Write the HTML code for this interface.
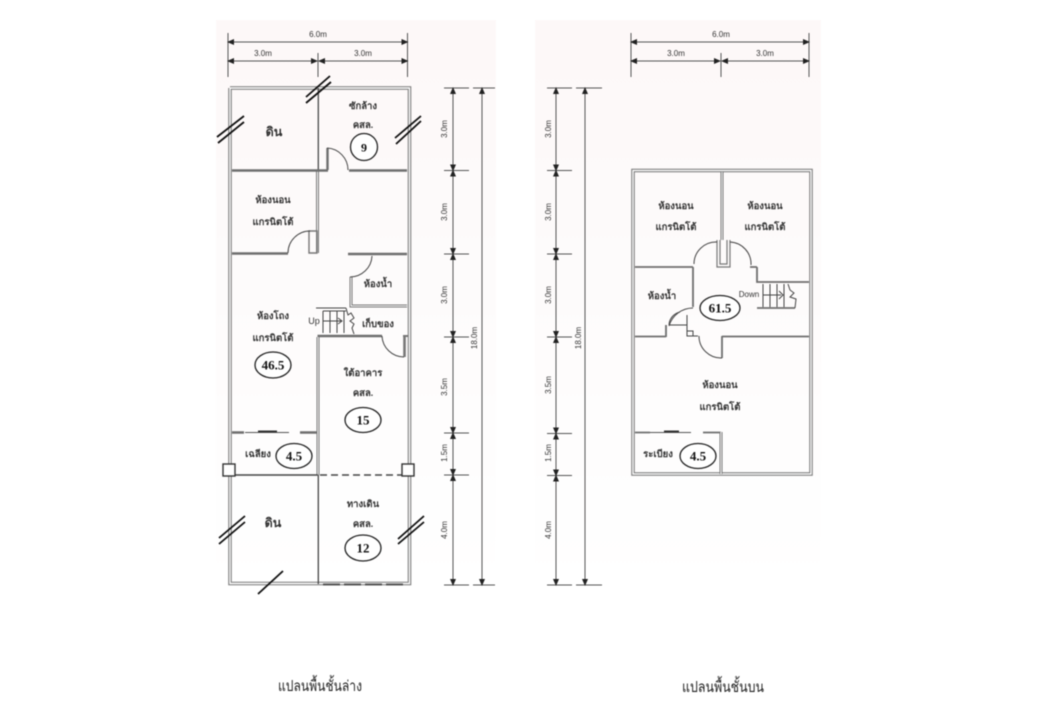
<!DOCTYPE html>
<html><head><meta charset="utf-8"><style>
html,body{margin:0;padding:0;background:#fff;width:1040px;height:720px;overflow:hidden}
svg{display:block;filter:blur(.45px)}
.dim{stroke:#555;stroke-width:1;fill:none}
.gap{fill:#333;font:8px "Liberation Sans",sans-serif;text-anchor:middle}
.t{fill:#333;font:bold 9.500px "Liberation Serif","DejaVu Sans",serif;text-anchor:middle}
.n{fill:#111;font:bold 13px "Liberation Serif",serif;text-anchor:middle}
.e{fill:#fff;stroke:#222;stroke-width:1.3}
.w{fill:none;stroke:#777;stroke-width:3.500}
.wi{fill:none;stroke:#fff;stroke-width:1.400}
.d{fill:none;stroke:#6e6e6e;stroke-width:2.400}
.b{stroke:#111;stroke-width:1.800;fill:none}
.a{fill:none;stroke:#444;stroke-width:1}
.ti{fill:#222;font:15px "Liberation Serif","DejaVu Sans",serif;text-anchor:middle}
</style></head><body>
<svg width="1040" height="720" viewBox="0 0 1040 720" xmlns="http://www.w3.org/2000/svg">
<defs>
<linearGradient id="g" x1="0" y1="0" x2="0" y2="1"><stop offset="0" stop-color="#fdf8f8"/><stop offset=".7" stop-color="#fefdfd"/><stop offset="1" stop-color="#fff"/></linearGradient>
<marker id="m" markerWidth="7" markerHeight="6" refX="6" refY="3" orient="auto-start-reverse" markerUnits="userSpaceOnUse"><path d="M0 0L7 3L0 6z" fill="#222"/></marker>
</defs>
<rect width="1040" height="720" fill="#fff"/>
<rect x="216" y="20" width="280" height="560" fill="url(#g)"/>
<rect x="535" y="20" width="286" height="560" fill="url(#g)"/>

<!-- GROUND top dims -->
<g class="dim">
<path d="M228 33V77M318 53V77M407.500 33V77"/>
<path d="M228 42H407.500" marker-start="url(#m)" marker-end="url(#m)"/>
<path d="M228 61H317" marker-start="url(#m)" marker-end="url(#m)"/>
<path d="M319 61H407.500" marker-start="url(#m)" marker-end="url(#m)"/>
</g>
<text class="gap" x="318" y="37">6.0m</text><text class="gap" x="263" y="56">3.0m</text><text class="gap" x="363" y="56">3.0m</text>

<!-- GROUND right dims -->
<g class="dim">
<path d="M444 88H469M444 170.500H469M444 254H469M444 337H469M444 433H469M444 475H469M444 585H469M473 88H495M473 585H495"/>
<path d="M453 88V170.500" marker-start="url(#m)" marker-end="url(#m)"/><path d="M453 170.500V254" marker-start="url(#m)" marker-end="url(#m)"/><path d="M453 254V337" marker-start="url(#m)" marker-end="url(#m)"/><path d="M453 337V433" marker-start="url(#m)" marker-end="url(#m)"/><path d="M453 433V475" marker-start="url(#m)" marker-end="url(#m)"/><path d="M453 475V585" marker-start="url(#m)" marker-end="url(#m)"/>
<path d="M482 88V585" marker-start="url(#m)" marker-end="url(#m)"/>
</g>
<g class="gap">
<text transform="translate(447,129) rotate(-90)">3.0m</text><text transform="translate(447,212) rotate(-90)">3.0m</text><text transform="translate(447,295) rotate(-90)">3.0m</text><text transform="translate(447,387) rotate(-90)">3.5m</text><text transform="translate(447,453) rotate(-90)">1.5m</text><text transform="translate(447,530) rotate(-90)">4.0m</text><text transform="translate(477,338) rotate(-90)">18.0m</text>
</g>

<!-- GROUND walls -->
<path class="w" d="M230 88H409.500V466M409.500 476V583.500H230V476M230 466V88"/>
<path class="wi" d="M230 88H409.500V466M409.500 476V583.500H230V476M230 466V88"/>
<path d="M318.300 88V170" stroke="#555" stroke-width="1.400" fill="none"/>
<path class="w" d="M317.500 171V253" style="stroke-width:3"/><path class="wi" d="M317.500 171V253" style="stroke-width:1"/>
<path class="d" d="M232 170.500H328M349 170.500H407M232 253.500H288M348 254H407M317.500 336H382M232 432.500H244M300 432.500H318M327.500 148V170"/>
<path d="M309 231H317V253H309Z" fill="none" stroke="#777" stroke-width="1.400"/>
<path class="w" d="M351 277V306H407" style="stroke-width:3"/><path class="wi" d="M351 277V306H407" style="stroke-width:1"/>
<path class="w" d="M318 337V475" style="stroke-width:3"/><path class="wi" d="M318 337V475" style="stroke-width:1"/>
<path d="M318.300 475V584" stroke="#444" stroke-width="1.300" fill="none"/>
<path d="M404.500 336V357" stroke="#777" stroke-width="2.600" fill="none"/>
<path d="M408 336H403" stroke="#777" stroke-width="2"/>
<path d="M245 432.500H289" stroke="#555" stroke-width="1"/><path d="M258 431.500H277" stroke="#333" stroke-width="2"/>
<path d="M228 475H318" stroke="#444" stroke-width="1.600"/>
<path d="M320 475H403" stroke="#444" stroke-width="1.400" stroke-dasharray="7 4"/>
<path d="M323 584.500H405" stroke="#555" stroke-width="2" stroke-dasharray="17 4"/>
<rect x="223" y="464" width="12" height="12" fill="#fff" stroke="#333" stroke-width="1.400"/>
<rect x="402" y="464" width="12" height="12" fill="#fff" stroke="#333" stroke-width="1.400"/>
<!-- doors -->
<g class="a">
<path d="M327 148A22 22 0 0 1 348 170"/>
<path d="M310 231A22 22 0 0 0 288 253"/>
<path d="M372 256A22 22 0 0 1 350 277"/>
<path d="M382 336A22 22 0 0 0 404 357"/>
</g>
<!-- GROUND stairs -->
<g stroke="#444" fill="none" stroke-width="1">
<path d="M316 308H346M323 311H346M323 311V333M330 311V333M337 311V333M344 311V333M323 321H342" />
<path d="M346 308L348 315L351 313L354 318L350 321L354 324L352 328L354 334"/>
<path d="M338 318L342 321L338 324"/>
</g>
<text class="gap" x="314" y="324" style="font-size:9px">Up</text>
<!-- break marks -->
<g class="b">
<path d="M306 97L330 76M306 103L331 82M217 137L244 116M218 143L244 122M395 138L421 116M396 144L421 121M219 538L245 516M219 544L245 522M398 539L424 516M398 544L424 522M258 594L283 571"/>
</g>
<!-- GROUND labels -->
<text class="t" x="274" y="136" style="font-size:12.500px">ดิน</text>
<text class="t" x="363" y="109">ซักล้าง</text><text class="t" x="363" y="128">คสล.</text>
<circle class="e" cx="364" cy="147" r="13.500"/><text class="n" x="364" y="151.500" style="font-size:12px">9</text>
<text class="t" x="273" y="203">ห้องนอน</text><text class="t" x="273" y="225">แกรนิตโต้</text>
<text class="t" x="273" y="319">ห้องโถง</text><text class="t" x="273" y="341">แกรนิตโต้</text>
<ellipse class="e" cx="273" cy="365" rx="18" ry="13"/><text class="n" x="273" y="369.500">46.5</text>
<text class="t" x="378" y="287">ห้องน้ำ</text><text class="t" x="378" y="327">เก็บของ</text>
<text class="t" x="363" y="376">ใต้อาคาร</text><text class="t" x="363" y="396">คสล.</text>
<ellipse class="e" cx="363" cy="420" rx="18" ry="12.500"/><text class="n" x="363" y="424.500">15</text>
<text class="t" x="258" y="457">เฉลียง</text>
<ellipse class="e" cx="294" cy="456" rx="18" ry="12.500"/><text class="n" x="294" y="460.500">4.5</text>
<text class="t" x="273" y="527" style="font-size:12.500px">ดิน</text>
<text class="t" x="363" y="507">ทางเดิน</text><text class="t" x="363" y="527">คสล.</text>
<ellipse class="e" cx="363" cy="548" rx="18" ry="13"/><text class="n" x="363" y="552.500">12</text>
<text class="ti" x="320" y="691" textLength="84" lengthAdjust="spacingAndGlyphs">แปลนพื้นชั้นล่าง</text>

<!-- UPPER top dims -->
<g class="dim">
<path d="M631 33V77M721 53V77M809 33V77"/>
<path d="M631 42H809" marker-start="url(#m)" marker-end="url(#m)"/>
<path d="M631 61H720" marker-start="url(#m)" marker-end="url(#m)"/>
<path d="M722 61H809" marker-start="url(#m)" marker-end="url(#m)"/>
</g>
<text class="gap" x="721" y="37">6.0m</text><text class="gap" x="676" y="56">3.0m</text><text class="gap" x="765" y="56">3.0m</text>

<!-- UPPER left dims -->
<g class="dim">
<path d="M547 88H572M547 170.500H572M547 254H572M547 337H572M547 433.500H572M547 475.500H572M547 585H572M576 88H602M576 585H602"/>
<path d="M556 88V170.500" marker-start="url(#m)" marker-end="url(#m)"/><path d="M556 170.500V254" marker-start="url(#m)" marker-end="url(#m)"/><path d="M556 254V337" marker-start="url(#m)" marker-end="url(#m)"/><path d="M556 337V433.500" marker-start="url(#m)" marker-end="url(#m)"/><path d="M556 433.500V475.500" marker-start="url(#m)" marker-end="url(#m)"/><path d="M556 475.500V585" marker-start="url(#m)" marker-end="url(#m)"/>
<path d="M585 88V585" marker-start="url(#m)" marker-end="url(#m)"/>
</g>
<g class="gap">
<text transform="translate(551,129) rotate(-90)">3.0m</text><text transform="translate(551,212) rotate(-90)">3.0m</text><text transform="translate(551,295) rotate(-90)">3.0m</text><text transform="translate(551,385) rotate(-90)">3.5m</text><text transform="translate(551,453) rotate(-90)">1.5m</text><text transform="translate(551,530) rotate(-90)">4.0m</text><text transform="translate(581,338) rotate(-90)">18.0m</text>
</g>

<!-- UPPER walls -->
<rect class="w" x="633" y="170.500" width="178" height="303.500"/>
<rect class="wi" x="633" y="170.500" width="178" height="303.500"/>
<path class="w" d="M722 172V240" style="stroke-width:3"/><path class="wi" d="M722 172V240" style="stroke-width:1"/>
<path class="d" style="stroke-width:1.800" d="M635 267H693M693 267V307M635 336.500H666M666 325V337M722 336.500H809M757 267V282H809M750 267H757M757 308H795M635 432.500H650M703 432.500H721M722 336V358"/>
<path d="M717 240V267H730V240M720 240V264H727V240" fill="none" stroke="#777" stroke-width="1.200"/>
<path class="w" d="M721 432V474" style="stroke-width:3"/><path class="wi" d="M721 432V474" style="stroke-width:1"/>
<path d="M650 432.500H691" stroke="#555" stroke-width="1"/><path d="M664 431.500H679" stroke="#333" stroke-width="2"/>
<g class="a">
<path d="M717 242A22 22 0 0 0 694 264"/>
<path d="M730 242A22 22 0 0 1 751 265"/>
<path d="M693 308A25 25 0 0 0 669 326"/>
<path d="M699 336A22 22 0 0 0 722 358"/>
<path d="M669 325H687M687 315V336H698M680 312A14 14 0 0 0 669 325M687 331H693V336"/>
</g>
<g stroke="#444" fill="none" stroke-width="1">
<path d="M763 284V307M770 284V307M777 284V307M784 284V307M763 295H781"/>
<path d="M779 291L783 295L779 299"/>
<path d="M788 284L790 290L794 293L790 297L796 299L795 308"/>
</g>
<text class="gap" x="749" y="297">Down</text>
<ellipse class="e" cx="720" cy="308" rx="20" ry="12.500"/><text class="n" x="720" y="312.500">61.5</text>
<text class="t" x="676" y="209">ห้องนอน</text><text class="t" x="676" y="230">แกรนิตโต้</text>
<text class="t" x="765" y="209">ห้องนอน</text><text class="t" x="765" y="230">แกรนิตโต้</text>
<text class="t" x="662" y="299">ห้องน้ำ</text>
<text class="t" x="720" y="388">ห้องนอน</text><text class="t" x="720" y="410">แกรนิตโต้</text>
<text class="t" x="658" y="457">ระเบียง</text>
<ellipse class="e" cx="698" cy="456" rx="18" ry="12.500"/><text class="n" x="698" y="460.500">4.5</text>
<text class="ti" x="723" y="692" textLength="82" lengthAdjust="spacingAndGlyphs">แปลนพื้นชั้นบน</text>
</svg>
</body></html>
